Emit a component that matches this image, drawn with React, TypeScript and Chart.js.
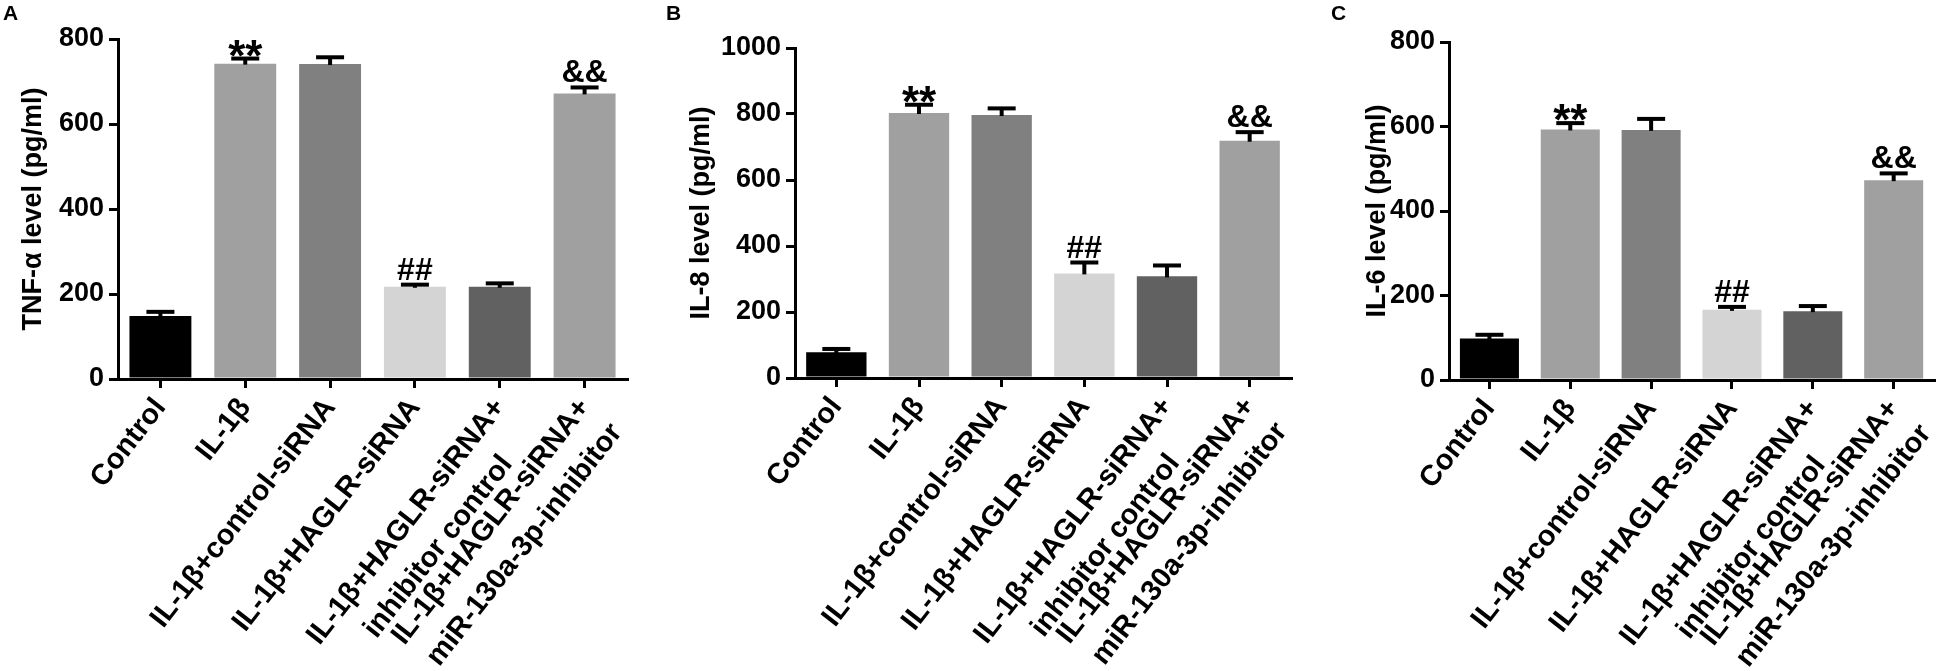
import React, { useEffect, useRef } from 'react';
import { Chart, registerables } from 'chart.js';

Chart.register(...registerables);

// ---------- data ----------
const categories: (string | string[])[] = [
  'Control',
  'IL-1β',
  'IL-1β+control-siRNA',
  'IL-1β+HAGLR-siRNA',
  ['IL-1β+HAGLR-siRNA+', 'inhibitor control'],
  ['IL-1β+HAGLR-siRNA+', 'miR-130a-3p-inhibitor'],
];

const tnfMeans = [148, 742, 741, 217, 217, 672];
const tnfErrors = [10, 12, 16, 5, 8, 14];

const il8Means = [78, 803, 797, 317, 308, 719];
const il8Errors = [10, 25, 20, 33, 33, 26];

const il6Means = [98, 593, 592, 166, 163, 473];
const il6Errors = [9, 15, 26, 7, 12, 16];

const significance = ['', '**', '', '##', '', '&&'];

const tnfAxisMax = 800;
const il8AxisMax = 1000;
const il6AxisMax = 800;
const tickStep = 200;

const barColors = ['#000000', '#a0a0a0', '#808080', '#d4d4d4', '#616161', '#a0a0a0'];

// ---------- layout (styles, not data) ----------
const FONT = '"Liberation Sans", Arial, Helvetica, sans-serif';
const H = 671;
const X_LABEL_SIZE = 29;
const X_LABEL_ROT = 52;

type Panel = {
  letter: string;
  title: string;
  means: number[];
  errors: number[];
  max: number;
  left: number;
  width: number;
  axisWidth: number;
  top: number;
  bottom: number;
  padRight: number;
  titlePad: number;
  letterX: number;
};

const panels: Panel[] = [
  { letter: 'A', title: 'TNF-α level (pg/ml)', means: tnfMeans, errors: tnfErrors, max: tnfAxisMax,
    left: 0, width: 660, axisWidth: 118, top: 39, bottom: 379, padRight: 33, titlePad: 17, letterX: 3 },
  { letter: 'B', title: 'IL-8 level (pg/ml)', means: il8Means, errors: il8Errors, max: il8AxisMax,
    left: 660, width: 660, axisWidth: 135, top: 48, bottom: 378, padRight: 29, titlePad: 25, letterX: 6 },
  { letter: 'C', title: 'IL-6 level (pg/ml)', means: il6Means, errors: il6Errors, max: il6AxisMax,
    left: 1320, width: 640, axisWidth: 129, top: 42, bottom: 380, padRight: 4, titlePad: 41, letterX: 11 },
];

// centre the lines of a multi-line label (the library right-aligns rotated lines)
let measureCtx: CanvasRenderingContext2D | null = null;
function centreLines(lines: string[], font: string): string[] {
  if (!measureCtx) measureCtx = document.createElement('canvas').getContext('2d');
  const mc = measureCtx as CanvasRenderingContext2D;
  mc.font = font;
  const widths = lines.map((l) => mc.measureText(l).width);
  const maxW = Math.max(...widths);
  const sp = mc.measureText(' ').width;
  return lines.map((l, i) => l + ' '.repeat(Math.max(0, Math.round((maxW - widths[i]) / 2 / sp))));
}

const decorPlugin = {
  id: 'decor',
  afterDatasetsDraw(chart: any, _args: any, opts: any) {
    const { ctx, scales } = chart;
    const y = scales.y;
    const meta = chart.getDatasetMeta(0);
    ctx.save();
    ctx.strokeStyle = '#000';
    ctx.fillStyle = '#000';
    ctx.lineCap = 'butt';
    opts.means.forEach((m: number, i: number) => {
      const el = meta.data[i];
      const cx = el.x;
      const yBar = y.getPixelForValue(m);
      const yTop = y.getPixelForValue(m + opts.errors[i]);
      ctx.lineWidth = 4;
      ctx.beginPath();
      ctx.moveTo(cx, yBar + 1);
      ctx.lineTo(cx, yTop);
      ctx.stroke();
      ctx.beginPath();
      ctx.moveTo(cx - 14, yTop);
      ctx.lineTo(cx + 14, yTop);
      ctx.stroke();
      const mark = opts.marks[i];
      if (mark) {
        const size = mark === '**' ? 44 : 32;
        ctx.font = `bold ${size}px ${FONT}`;
        ctx.textAlign = 'center';
        ctx.textBaseline = 'alphabetic';
        const mt = ctx.measureText(mark);
        const descent = mt.actualBoundingBoxDescent || 0;
        const gap = mark === '**' ? 2 : 5;
        ctx.fillText(mark, cx, yTop - gap - descent);
      }
    });
    ctx.font = `bold 21px ${FONT}`;
    ctx.textAlign = 'left';
    ctx.textBaseline = 'top';
    ctx.fillText(opts.letter, opts.letterX, 4);
    ctx.restore();
  },
};

function PanelChart({ p }: { p: Panel }) {
  const ref = useRef<HTMLCanvasElement | null>(null);
  useEffect(() => {
    if (!ref.current) return;
    const labelFont = `bold ${X_LABEL_SIZE}px ${FONT}`;
    const chart = new Chart(ref.current, {
      type: 'bar',
      data: {
        labels: categories,
        datasets: [
          {
            data: p.means,
            backgroundColor: barColors,
            borderWidth: 0,
            barPercentage: 0.73,
            categoryPercentage: 1,
          },
        ],
      },
      options: {
        responsive: false,
        animation: false,
        devicePixelRatio: 1,
        layout: { padding: { top: p.top, right: p.padRight, bottom: 0, left: 0 } },
        plugins: {
          legend: { display: false },
          tooltip: { enabled: false },
          decor: { means: p.means, errors: p.errors, marks: significance, letter: p.letter, letterX: p.letterX },
        } as any,
        scales: {
          x: {
            type: 'category',
            offset: true,
            grid: {
              display: true,
              offset: false,
              drawOnChartArea: false,
              drawTicks: true,
              tickLength: 9,
              lineWidth: 3,
              color: '#000',
            },
            border: { display: true, width: 3, color: '#000' },
            ticks: {
              autoSkip: false,
              minRotation: X_LABEL_ROT,
              maxRotation: X_LABEL_ROT,
              padding: 2,
              color: '#000',
              font: { family: FONT, size: X_LABEL_SIZE, weight: 'bold', lineHeight: 1.4 },
              callback: (_v: any, index: number) => {
                const lab = categories[index];
                return Array.isArray(lab) ? centreLines(lab, labelFont) : lab;
              },
            },
            afterFit: (s: any) => {
              s.height = H - p.bottom;
            },
          } as any,
          y: {
            min: 0,
            max: p.max,
            ticks: {
              stepSize: tickStep,
              padding: 5,
              color: '#000',
              font: { family: FONT, size: 27, weight: 'bold' },
              callback: (v: any) => String(v),
            },
            grid: {
              drawOnChartArea: false,
              drawTicks: true,
              tickLength: 9,
              lineWidth: 3,
              color: '#000',
            },
            border: { display: true, width: 3, color: '#000' },
            title: {
              display: true,
              text: p.title,
              color: '#000',
              font: { family: FONT, size: 27, weight: 'bold' },
              padding: { top: p.titlePad, bottom: 0 },
            },
            afterFit: (s: any) => {
              s.width = p.axisWidth;
            },
          } as any,
        },
      },
      plugins: [decorPlugin],
    });
    return () => chart.destroy();
  }, [p]);
  return (
    <canvas
      ref={ref}
      width={p.width}
      height={H}
      style={{ position: 'absolute', left: p.left, top: 0, width: p.width, height: H }}
    />
  );
}

export default function App() {
  return (
    <div style={{ position: 'absolute', left: 0, top: 0, width: 1960, height: H, background: '#fff', overflow: 'hidden' }}>
      {panels.map((p) => (
        <PanelChart key={p.letter} p={p} />
      ))}
    </div>
  );
}
